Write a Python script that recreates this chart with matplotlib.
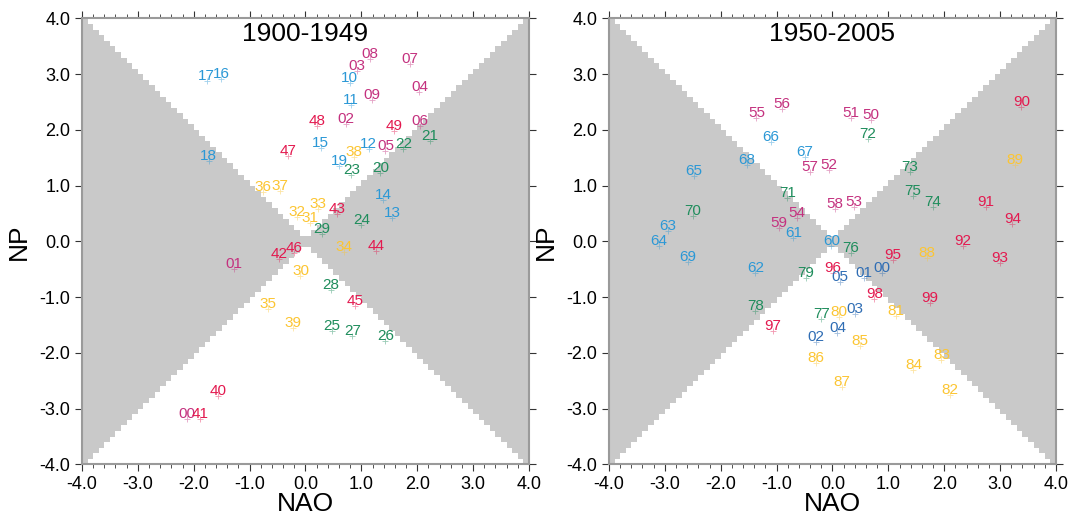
import numpy as np
import matplotlib
matplotlib.use("Agg")
import matplotlib.pyplot as plt
from matplotlib.colors import ListedColormap
from matplotlib.ticker import MultipleLocator, FormatStrFormatter
from matplotlib.transforms import offset_copy

plt.rcParams['font.family'] = ['Liberation Sans', 'DejaVu Sans']

# label positions (NAO, NP), one per year
years_a = ["00", "01", "02", "03", "04", "05", "06", "07", "08", "09",
           "10", "11", "12", "13", "14", "15", "16", "17", "18", "19",
           "20", "21", "22", "23", "24", "25", "26", "27", "28", "29",
           "30", "31", "32", "33", "34", "35", "36", "37", "38", "39",
           "40", "41", "42", "43", "44", "45", "46", "47", "48", "49"]
nao_a = [-2.12, -1.28, 0.72, 0.92, 2.04, 1.43, 2.05, 1.87, 1.16, 1.19,
         0.79, 0.82, 1.13, 1.55, 1.39, 0.27, -1.51, -1.77, -1.73, 0.60,
         1.34, 2.23, 1.75, 0.82, 1.00, 0.47, 1.43, 0.84, 0.45, 0.30,
         -0.09, 0.08, -0.15, 0.23, 0.69, -0.67, -0.76, -0.45, 0.87, -0.22,
         -1.57, -1.88, -0.47, 0.56, 1.27, 0.88, -0.21, -0.32, 0.20, 1.58]
np_a = [-3.09, -0.40, 2.19, 3.14, 2.78, 1.72, 2.17, 3.28, 3.36, 2.62,
        2.93, 2.54, 1.74, 0.51, 0.84, 1.77, 3.01, 2.96, 1.53, 1.45,
        1.31, 1.90, 1.74, 1.29, 0.39, -1.52, -1.70, -1.61, -0.78, 0.22,
        -0.53, 0.42, 0.53, 0.68, -0.09, -1.12, 0.97, 0.99, 1.60, -1.46,
        -2.68, -3.10, -0.22, 0.59, -0.08, -1.06, -0.11, 1.63, 2.17, 2.08]

years_b = ["50", "51", "52", "53", "54", "55", "56", "57", "58", "59",
           "60", "61", "62", "63", "64", "65", "66", "67", "68", "69",
           "70", "71", "72", "73", "74", "75", "76", "77", "78", "79",
           "80", "81", "82", "83", "84", "85", "86", "87", "88", "89",
           "90", "91", "92", "93", "94", "95", "96", "97", "98", "99",
           "00", "01", "02", "03", "04", "05"]
nao_b = [0.69, 0.33, -0.06, 0.39, -0.63, -1.36, -0.90, -0.40, 0.04, -0.96,
         -0.02, -0.70, -1.38, -2.95, -3.10, -2.48, -1.10, -0.49, -1.53, -2.59,
         -2.50, -0.81, 0.63, 1.38, 1.80, 1.44, 0.33, -0.20, -1.38, -0.48,
         0.11, 1.13, 2.10, 1.95, 1.45, 0.49, -0.29, 0.17, 1.69, 3.26,
         3.38, 2.75, 2.33, 3.00, 3.22, 1.08, 0.01, -1.07, 0.75, 1.74,
         0.89, 0.56, -0.30, 0.41, 0.09, 0.13]
np_b = [2.27, 2.31, 1.38, 0.70, 0.52, 2.30, 2.47, 1.33, 0.68, 0.34,
        0.00, 0.15, -0.47, 0.27, 0.00, 1.26, 1.88, 1.61, 1.46, -0.28,
        0.54, 0.87, 1.93, 1.33, 0.70, 0.91, -0.12, -1.30, -1.15, -0.56,
        -1.26, -1.24, -2.66, -2.03, -2.22, -1.79, -2.09, -2.52, -0.20, 1.46,
        2.50, 0.70, 0.01, -0.29, 0.41, -0.24, -0.48, -1.52, -0.94, -1.01,
        -0.47, -0.56, -1.72, -1.21, -1.55, -0.64]

# one colour per decade
decade_colors_a = ["#c4317f", "#2b98d6", "#1f8d5c", "#fcc532", "#e3194f"]
decade_colors_b = ["#c4317f", "#2b98d6", "#1f8d5c", "#fcc532", "#e3194f", "#2f6db4"]


def draw_panel(ax, fig, title, years, nao, npi, colors):
    # grey wedges where |NAO| > |NP| on a 0.1 grid
    edges = np.linspace(-4, 4, 81)
    centers = (edges[:-1] + edges[1:]) / 2
    X, Y = np.meshgrid(centers, centers)
    mask = (np.abs(X) >= np.abs(Y) - 1e-9).astype(float)
    mask = np.ma.masked_where(mask == 0, mask)
    ax.pcolormesh(edges, edges, mask, cmap=ListedColormap(["#c9c9c9"]),
                  shading="flat", zorder=0)

    # small crosses just below each label
    mark_tr = offset_copy(ax.transData, fig=fig, x=0, y=-5, units="dots")
    for i, yr in enumerate(years):
        c = colors[i // 10]
        ax.plot(nao[i], npi[i], marker="+", ms=5, mew=0.6, color=c,
                alpha=0.45, transform=mark_tr, zorder=2)
        ax.text(nao[i], npi[i], yr, color=c, fontsize=11, ha="center",
                va="center", zorder=3)

    ax.set_xlim(-4, 4)
    ax.set_ylim(-4, 4)
    ax.text(0, 3.72, title, ha="center", va="center", fontsize=19)
    ax.set_xlabel("NAO", fontsize=19, labelpad=-1)
    ax.set_ylabel("NP", fontsize=19, labelpad=6)

    ax.xaxis.set_major_locator(MultipleLocator(1.0))
    ax.yaxis.set_major_locator(MultipleLocator(1.0))
    ax.xaxis.set_minor_locator(MultipleLocator(0.2))
    ax.xaxis.set_major_formatter(FormatStrFormatter("%.1f"))
    ax.yaxis.set_major_formatter(FormatStrFormatter("%.1f"))
    ax.tick_params(axis="x", which="both", direction="out", top=True,
                   bottom=True, labelsize=13, color="#333333")
    ax.tick_params(axis="y", which="both", direction="out", left=True,
                   right=True, labelsize=13, color="#333333")
    ax.tick_params(which="major", length=5, width=0.8)
    ax.tick_params(which="minor", length=3, width=0.6)
    for sp in ax.spines.values():
        sp.set_color("#9a9a9a")
        sp.set_linewidth(1.5)


fig = plt.figure(figsize=(10.7, 5.18), dpi=100)
ax1 = fig.add_axes([0.0766, 0.1033, 0.4178, 0.861])
ax2 = fig.add_axes([0.5691, 0.1033, 0.4178, 0.861])

draw_panel(ax1, fig, "1900-1949", years_a, nao_a, np_a, decade_colors_a)
draw_panel(ax2, fig, "1950-2005", years_b, nao_b, np_b, decade_colors_b)

fig.savefig("out.png", dpi=100)
